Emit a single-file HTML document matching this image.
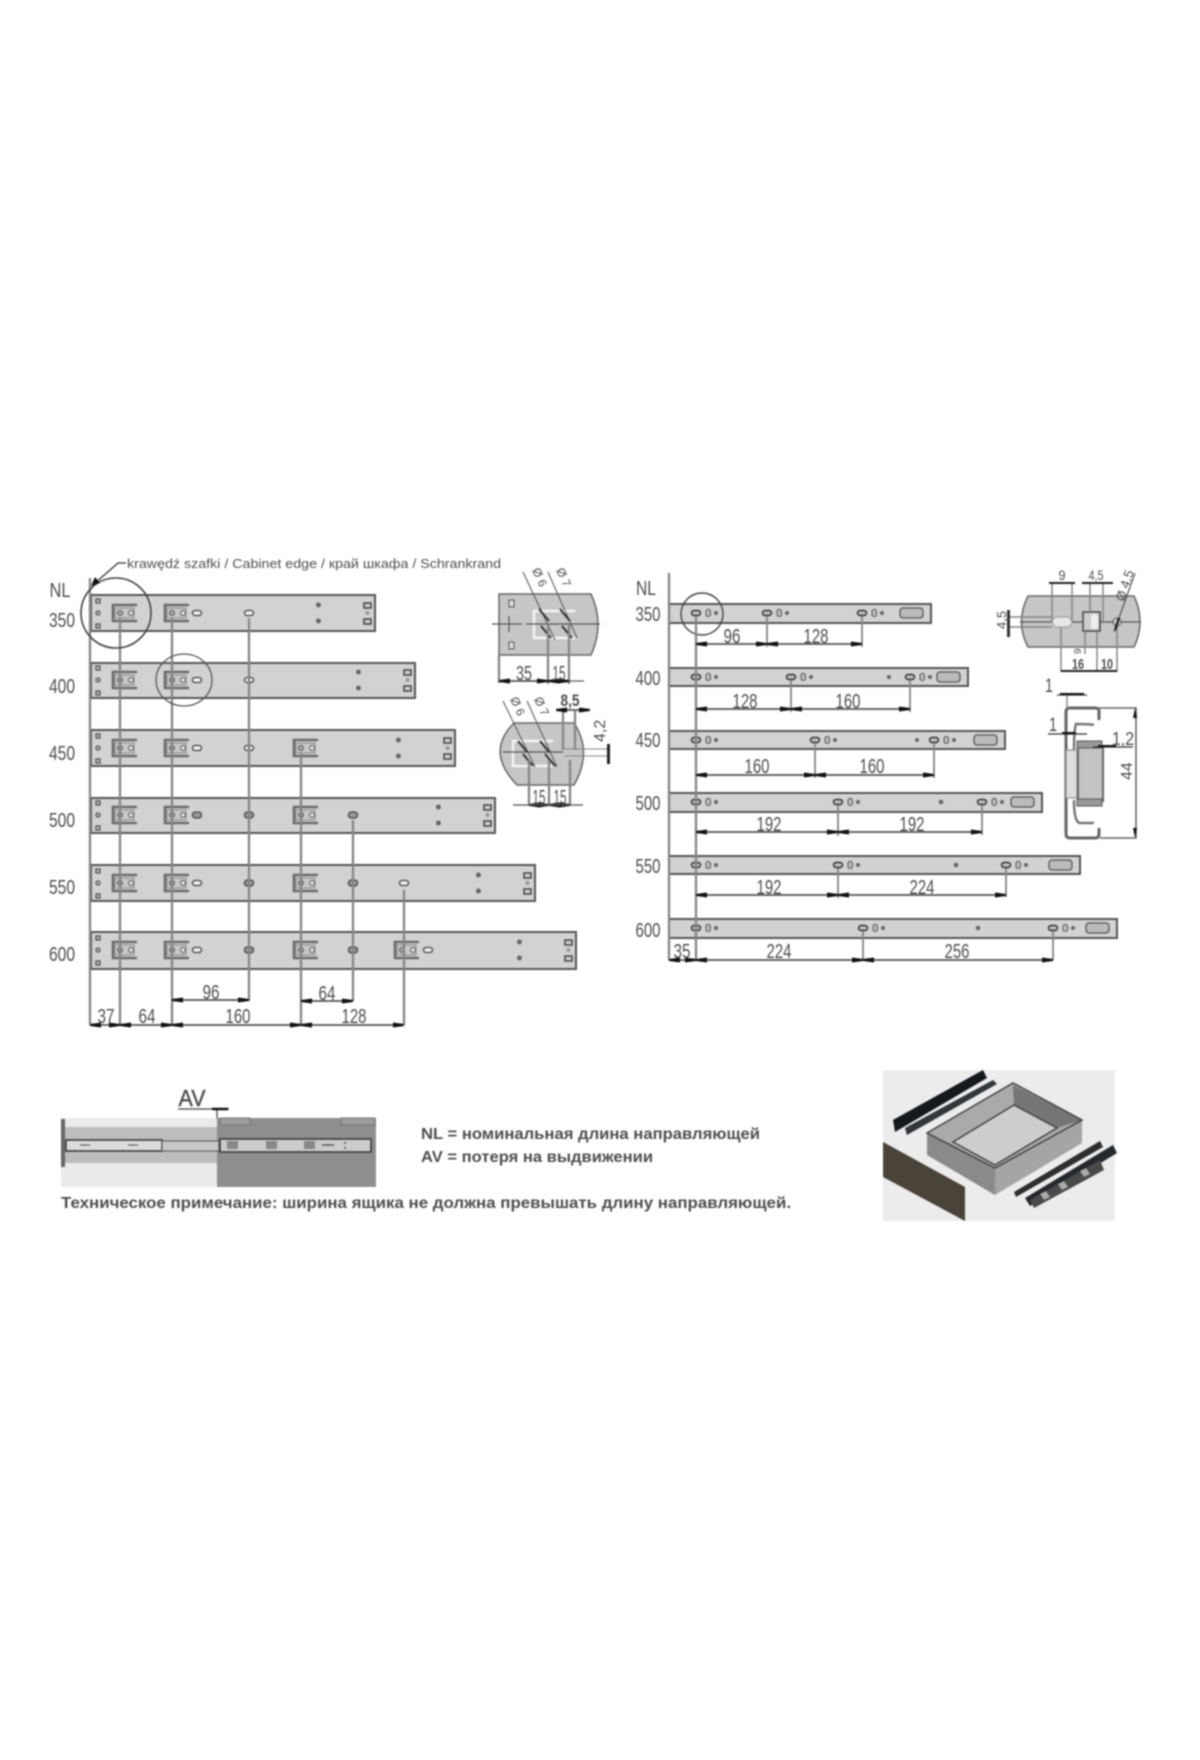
<!DOCTYPE html>
<html lang="pl"><head><meta charset="utf-8"><title>Rail drawing</title>
<style>
html,body{margin:0;padding:0;background:#fff}
svg{display:block;filter:blur(.8px)}
text{font-family:"Liberation Sans","DejaVu Sans",sans-serif;fill:#4e4e4e}
.n{font-size:20px;text-anchor:middle}
.b{font-weight:bold}
.x{stroke:#858585;stroke-width:2.3;fill:none}
.d{stroke:#555;stroke-width:1.7;fill:none;marker-start:url(#a);marker-end:url(#a)}
.t{stroke:#555;stroke-width:1.2;fill:none}
</style></head><body>
<svg width="1200" height="1760" viewBox="0 0 1200 1760" xmlns="http://www.w3.org/2000/svg">
<defs>
<marker id="a" markerUnits="userSpaceOnUse" markerWidth="12" markerHeight="6" refX="11" refY="3" orient="auto-start-reverse"><path d="M0 .5L11 2V4L0 5.5Z" fill="#111"/></marker>
<g id="br"><path d="M17-8H-7V8H17" fill="none" stroke="#6a6a6a" stroke-width="2.6"/><rect x="-5" y="-5" width="19" height="10" fill="#c8c8c8" stroke="#888"/><circle cx="0" cy="0" r="2.5" fill="#aaa" stroke="#555"/><circle cx="11" cy="0" r="2.5" fill="#ddd" stroke="#555"/></g>
<g id="ls"><g fill="#bbb" stroke="#555" stroke-width="1.3"><rect x="5" y="4" width="4" height="4"/><circle cx="7" cy="18" r="2"/><rect x="5" y="29" width="4" height="4"/></g></g>
<g id="re"><circle cx="-56.6" cy="10" r="2.5" fill="#666"/><circle cx="-56.6" cy="26" r="2.5" fill="#666"/><g fill="#ccc" stroke="#444" stroke-width="1.5"><rect x="-11" y="8" width="7" height="5"/><rect x="-11" y="24" width="7" height="5"/></g><circle cx="-7.5" cy="18" r="2" fill="#999"/></g>
<rect id="o" x="-4.5" y="-2.5" width="9" height="5" rx="2.5" fill="#eee" stroke="#444" stroke-width="1.3"/>
<rect id="o2" x="-4.5" y="-3" width="9" height="6" rx="3" fill="#999" stroke="#444" stroke-width="1.3"/>
<g id="h"><rect x="-4.5" y="-2.5" width="9" height="5" rx="2.5" fill="#bbb" stroke="#333" stroke-width="1.4"/><rect x="10" y="-3.5" width="4.5" height="7" rx="2" fill="#bbb" stroke="#555"/><circle cx="20" cy="0" r="2" fill="#666"/></g>
<rect id="sl" x="-31" y="-5" width="23" height="10" rx="3" fill="#bbb" stroke="#555" stroke-width="1.3"/>
</defs>
<rect width="1200" height="1760" fill="#fff"/>

<!-- LEFT RAILS -->
<g fill="#d2d2d2" stroke="#555" stroke-width="2">
<rect x="91" y="595" width="284" height="36"/><rect x="91" y="663" width="324" height="35"/><rect x="91" y="730" width="364" height="36"/>
<rect x="91" y="798" width="404" height="35"/><rect x="91" y="865" width="444" height="36"/><rect x="91" y="932" width="485" height="37"/>
</g>
<use href="#ls" x="91" y="595"/><use href="#ls" x="91" y="662"/><use href="#ls" x="91" y="730"/><use href="#ls" x="91" y="797"/><use href="#ls" x="91" y="865"/><use href="#ls" x="91" y="932"/>
<use href="#re" x="375" y="595"/><use href="#re" x="415" y="662"/><use href="#re" x="455" y="730"/><use href="#re" x="495" y="797"/><use href="#re" x="535" y="865"/><use href="#re" x="576" y="932"/>
<use href="#br" x="120" y="613"/><use href="#br" x="120" y="680"/><use href="#br" x="120" y="748"/><use href="#br" x="120" y="815"/><use href="#br" x="120" y="883"/><use href="#br" x="120" y="950"/>
<use href="#br" x="172" y="613"/><use href="#br" x="172" y="680"/><use href="#br" x="172" y="748"/><use href="#br" x="172" y="815"/><use href="#br" x="172" y="883"/><use href="#br" x="172" y="950"/>
<use href="#o" x="197" y="613"/><use href="#o" x="197" y="680"/><use href="#o" x="197" y="748"/><use href="#o2" x="197" y="815"/><use href="#o" x="197" y="883"/><use href="#o" x="197" y="950"/>
<use href="#o" x="249" y="613"/><use href="#o" x="249" y="680"/><use href="#o" x="249" y="748"/><use href="#o2" x="249" y="815"/><use href="#o2" x="249" y="883"/><use href="#o2" x="249" y="950"/>
<use href="#br" x="301" y="748"/><use href="#br" x="301" y="815"/><use href="#br" x="301" y="883"/><use href="#br" x="301" y="950"/>
<use href="#o2" x="353" y="815"/><use href="#o2" x="353" y="883"/><use href="#o2" x="353" y="950"/>
<use href="#o" x="404" y="883"/><use href="#br" x="402" y="950"/><use href="#o" x="428" y="950"/>

<path class="x" d="M90 578V1025M120 618V1025M172 618V1025M249 618V1001M301 753V1025M353 820V1001M404 890V1025"/>
<path class="d" d="M172 1000H249"/><path class="d" d="M301 1001H353"/>
<path class="d" d="M90 1025H120"/><path class="d" d="M120 1025H172"/><path class="d" d="M172 1025H301"/><path class="d" d="M301 1025H404"/>
<text class="n" x="106" y="1023" textLength="17" lengthAdjust="spacingAndGlyphs">37</text>
<text class="n" x="147" y="1023" textLength="17" lengthAdjust="spacingAndGlyphs">64</text>
<text class="n" x="238" y="1023" textLength="25" lengthAdjust="spacingAndGlyphs">160</text>
<text class="n" x="354" y="1023" textLength="25" lengthAdjust="spacingAndGlyphs">128</text>
<text class="n" x="211" y="999" textLength="17" lengthAdjust="spacingAndGlyphs">96</text>
<text class="n" x="327" y="1000" textLength="17" lengthAdjust="spacingAndGlyphs">64</text>

<text class="n" x="60" y="597" textLength="21" lengthAdjust="spacingAndGlyphs">NL</text>
<text class="n" x="62" y="627" textLength="26" lengthAdjust="spacingAndGlyphs">350</text>
<text class="n" x="62" y="693" textLength="26" lengthAdjust="spacingAndGlyphs">400</text>
<text class="n" x="62" y="760" textLength="26" lengthAdjust="spacingAndGlyphs">450</text>
<text class="n" x="62" y="827" textLength="26" lengthAdjust="spacingAndGlyphs">500</text>
<text class="n" x="62" y="894" textLength="26" lengthAdjust="spacingAndGlyphs">550</text>
<text class="n" x="62" y="961" textLength="26" lengthAdjust="spacingAndGlyphs">600</text>

<ellipse cx="116" cy="613" rx="35" ry="35" fill="none" stroke="#444" stroke-width="1.6"/>
<ellipse cx="184" cy="680" rx="28" ry="26" fill="none" stroke="#555" stroke-width="1.3"/>
<path d="M126 563H118L94 584" fill="none" stroke="#333" stroke-width="1.3"/><path d="M91 586L95 577L100 583Z" fill="#111"/>
<text x="127" y="568" font-size="13" textLength="374" lengthAdjust="spacingAndGlyphs">krawędź szafki / Cabinet edge / край шкафа / Schrankrand</text>

<!-- DETAIL 1 -->
<path d="M499 594H591Q605 624 591 655H499Z" fill="#c6c6c6" stroke="#666" stroke-width="1.5"/>
<path d="M575 611H534V638H575" fill="none" stroke="#f4f4f4" stroke-width="2.5"/>
<rect x="509" y="600" width="5" height="7" fill="#ddd" stroke="#555"/><rect x="509" y="642" width="5" height="7" fill="#ddd" stroke="#555"/>
<path class="t" d="M492 624H522M526 624H600M509 616V632"/>
<path d="M523 572L555 640M548 572L577 638" stroke="#555" fill="none"/>
<path d="M539 609L549 621M541 626L551 638M560 609L570 621M562 626L572 638" stroke="#333" stroke-width="2"/>
<path class="x" d="M499 655V683M548 624V684M569 624V684"/>
<path class="d" d="M499 681H548"/><path class="d" d="M548 681H569"/><path class="t" d="M569 681H584"/>
<text class="n" x="524" y="680" textLength="16" lengthAdjust="spacingAndGlyphs">35</text>
<text class="n" x="559" y="680" textLength="13" lengthAdjust="spacingAndGlyphs">15</text>
<text font-size="12" transform="translate(532 570) rotate(66)">Ø 6</text>
<text font-size="12" transform="translate(556 570) rotate(66)">Ø 7</text>

<!-- DETAIL 2 -->
<path d="M514 723H574Q593 752 574 785H517Q485 752 514 723Z" fill="#c6c6c6" stroke="#666" stroke-width="1.5"/>
<path d="M553 741H513V766H553" fill="none" stroke="#f4f4f4" stroke-width="2.5"/>
<path class="t" d="M503 752H563"/><path d="M564 749H610M564 756H610" stroke="#888" fill="none"/>
<path d="M503 701L535 767M527 701L557 767" stroke="#555" fill="none"/>
<path d="M518 741L527 752M523 754L533 766M540 741L549 752M545 754L555 766" stroke="#333" stroke-width="2"/>
<path class="x" d="M563 711V750M575 711V750M529 760V806M549 760V806M570 760V806"/>
<path class="d" d="M556 710H590"/>
<path class="d" d="M529 805H549"/><path class="d" d="M549 805H570"/><path class="t" d="M513 805H583"/>
<rect x="607" y="744" width="3" height="20" fill="#222"/>
<text class="n b" x="570" y="706" style="font-size:17px" textLength="19" lengthAdjust="spacingAndGlyphs">8,5</text>
<text class="n" x="539" y="804" textLength="13" lengthAdjust="spacingAndGlyphs">15</text>
<text class="n" x="560" y="804" textLength="13" lengthAdjust="spacingAndGlyphs">15</text>
<text font-size="16" transform="translate(605 742) rotate(-90)">4,2</text>
<text font-size="12" transform="translate(510 699) rotate(66)">Ø 6</text>
<text font-size="12" transform="translate(534 699) rotate(66)">Ø 7</text>

<!-- RIGHT RAILS -->
<g fill="#d2d2d2" stroke="#555" stroke-width="2">
<rect x="669" y="604" width="262" height="19"/><rect x="669" y="668" width="299" height="18"/><rect x="669" y="731" width="336" height="18"/>
<rect x="669" y="793" width="373" height="19"/><rect x="669" y="856" width="411" height="18"/><rect x="669" y="919" width="448" height="19"/>
</g>
<use href="#sl" x="931" y="613"/><use href="#sl" x="968" y="677"/><use href="#sl" x="1005" y="740"/><use href="#sl" x="1042" y="802"/><use href="#sl" x="1080" y="865"/><use href="#sl" x="1117" y="928"/>
<use href="#h" x="696" y="613"/><use href="#h" x="767" y="613"/><use href="#h" x="862" y="613"/>
<use href="#h" x="696" y="677"/><use href="#h" x="791" y="677"/><use href="#h" x="910" y="677"/><circle cx="889" cy="677" r="2" fill="#666"/>
<use href="#h" x="696" y="740"/><use href="#h" x="815" y="740"/><use href="#h" x="934" y="740"/><circle cx="917" cy="740" r="2" fill="#666"/>
<use href="#h" x="696" y="802"/><use href="#h" x="838" y="802"/><use href="#h" x="982" y="802"/><circle cx="941" cy="802" r="2.3" fill="#666"/>
<use href="#h" x="696" y="865"/><use href="#h" x="838" y="865"/><use href="#h" x="1006" y="865"/><circle cx="956" cy="865" r="2.3" fill="#666"/>
<use href="#h" x="696" y="928"/><use href="#h" x="863" y="928"/><use href="#h" x="1053" y="928"/><circle cx="978" cy="928" r="2.3" fill="#666"/>
<ellipse cx="702" cy="614" rx="21" ry="21" fill="none" stroke="#444" stroke-width="1.4"/>
<path class="x" d="M669 573V960M696 616V960"/>
<path class="x" style="stroke-width:1.8" d="M767 616V647M862 616V647M791 680V712M910 680V712M815 743V778M934 743V778M838 805V836M982 805V835M838 868V898M1006 868V897M863 931V960M1053 931V960"/>
<path class="d" d="M696 644H767"/><path class="d" d="M767 644H862"/>
<path class="d" d="M696 709H791"/><path class="d" d="M791 709H910"/>
<path class="d" d="M696 775H815"/><path class="d" d="M815 775H934"/>
<path class="d" d="M696 832H838"/><path class="d" d="M838 832H982"/>
<path class="d" d="M696 895H838"/><path class="d" d="M838 895H1006"/>
<path class="d" d="M669 960H696"/><path class="d" d="M696 960H863"/><path class="d" d="M863 960H1053"/>
<text class="n" x="646" y="595" textLength="20" lengthAdjust="spacingAndGlyphs">NL</text>
<text class="n" x="648" y="621" textLength="25" lengthAdjust="spacingAndGlyphs">350</text>
<text class="n" x="648" y="685" textLength="25" lengthAdjust="spacingAndGlyphs">400</text>
<text class="n" x="648" y="747" textLength="25" lengthAdjust="spacingAndGlyphs">450</text>
<text class="n" x="648" y="810" textLength="25" lengthAdjust="spacingAndGlyphs">500</text>
<text class="n" x="648" y="873" textLength="25" lengthAdjust="spacingAndGlyphs">550</text>
<text class="n" x="648" y="937" textLength="25" lengthAdjust="spacingAndGlyphs">600</text>
<text class="n" x="732" y="643" textLength="17" lengthAdjust="spacingAndGlyphs">96</text>
<text class="n" x="816" y="643" textLength="25" lengthAdjust="spacingAndGlyphs">128</text>
<text class="n" x="745" y="708" textLength="25" lengthAdjust="spacingAndGlyphs">128</text>
<text class="n" x="848" y="708" textLength="25" lengthAdjust="spacingAndGlyphs">160</text>
<text class="n" x="757" y="773" textLength="25" lengthAdjust="spacingAndGlyphs">160</text>
<text class="n" x="872" y="773" textLength="25" lengthAdjust="spacingAndGlyphs">160</text>
<text class="n" x="769" y="831" textLength="25" lengthAdjust="spacingAndGlyphs">192</text>
<text class="n" x="912" y="831" textLength="25" lengthAdjust="spacingAndGlyphs">192</text>
<text class="n" x="769" y="894" textLength="25" lengthAdjust="spacingAndGlyphs">192</text>
<text class="n" x="922" y="894" textLength="25" lengthAdjust="spacingAndGlyphs">224</text>
<text class="n" x="682" y="958" textLength="17" lengthAdjust="spacingAndGlyphs">35</text>
<text class="n" x="779" y="958" textLength="25" lengthAdjust="spacingAndGlyphs">224</text>
<text class="n" x="957" y="958" textLength="25" lengthAdjust="spacingAndGlyphs">256</text>

<!-- DETAIL 3 -->
<path d="M1028 596H1134Q1146 622 1134 647H1028Q1015 622 1028 596Z" fill="#c6c6c6" stroke="#666" stroke-width="1.5"/>
<path class="t" d="M1020 622H1141"/>
<rect x="1052" y="617" width="20" height="10" rx="5" fill="#e6e6e6" stroke="#999"/>
<rect x="1083" y="612" width="17" height="19" fill="#ccc" stroke="#444" stroke-width="1.5"/><rect x="1091" y="614" width="7" height="15" rx="3" fill="#eee"/>
<circle cx="1117" cy="622" r="4" fill="#ccc" stroke="#555"/>
<path class="x" style="stroke-width:1.5" d="M1052 583V622M1072 583V622M1090 583V612M1103 583V622M1061 627V672M1097 631V672M1117 626V672M1085 631V654M1008 617H1052M1008 627H1052"/>
<path class="t" d="M1135 573L1114 632"/><path d="M1119 618L1115 630" stroke="#111" stroke-width="2"/>
<path d="M1049 583H1075M1082 583H1113" stroke="#222" stroke-width="2"/>
<rect x="1007" y="610" width="3" height="27" fill="#333"/>
<path d="M1061 671H1117" stroke="#222" stroke-width="2"/>
<text class="n" x="1062" y="580" style="font-size:14px" textLength="7" lengthAdjust="spacingAndGlyphs">9</text>
<text class="n" x="1096" y="580" style="font-size:14px" textLength="15" lengthAdjust="spacingAndGlyphs">4,5</text>
<text font-size="13" transform="translate(1124 602) rotate(-72)">Ø 4,5</text>
<text font-size="13" transform="translate(1006 629) rotate(-90)">4,5</text>
<text font-size="10" transform="translate(1081 654) rotate(-90)">9</text>
<text class="n b" x="1078" y="669" style="font-size:15px" textLength="12" lengthAdjust="spacingAndGlyphs">16</text>
<text class="n b" x="1107" y="669" style="font-size:15px" textLength="12" lengthAdjust="spacingAndGlyphs">10</text>

<!-- PROFILE -->
<path d="M1099 720V711Q1099 708 1095 708H1070Q1066 708 1066 712V834Q1066 838 1070 838H1095Q1099 838 1099 834V828" fill="none" stroke="#666" stroke-width="3"/>
<rect x="1066" y="750" width="11" height="48" fill="#ddd" stroke="#888"/>
<rect x="1078" y="747" width="25" height="54" fill="#c4c4c4" stroke="#666" stroke-width="2"/>
<path d="M1094 725Q1090 724 1076 724Q1074 730 1074 750M1094 823H1080Q1074 823 1074 800" fill="none" stroke="#777" stroke-width="2.5"/>
<path d="M1077 741H1102V748H1077ZM1077 799H1102V806H1077Z" fill="#999" stroke="#555"/>
<path class="x" style="stroke-width:1.4" d="M1067 696V708"/>
<path d="M1057 695H1087M1048 734H1087M1093 747H1133" stroke="#333" stroke-width="1.3"/>
<path d="M1060 694H1084M1062 733H1076M1098 746H1116" stroke="#111" stroke-width="2"/>
<path d="M1099 708H1136V838H1100" fill="none" stroke="#666" stroke-width="1.6"/>
<path d="M1135 708l-2 10h4ZM1135 838l-2-10h4Z" fill="#111"/>
<text class="n" x="1049" y="692" style="font-size:19px" textLength="8" lengthAdjust="spacingAndGlyphs">1</text>
<text class="n" x="1053" y="731" style="font-size:19px" textLength="8" lengthAdjust="spacingAndGlyphs">1</text>
<text class="n" x="1123" y="745" style="font-size:18px" textLength="22" lengthAdjust="spacingAndGlyphs">1,2</text>
<text font-size="16" transform="translate(1132 780) rotate(-90)">44</text>

<!-- AV DRAWING -->
<rect x="61" y="1118" width="156" height="69" fill="#ebebeb"/>
<rect x="61" y="1127" width="157" height="36" fill="#bdbdbd"/>
<rect x="217" y="1118" width="159" height="69" fill="#8e8e8e"/>
<rect x="220" y="1118" width="30" height="7" fill="#9c9c9c" stroke="#777"/><rect x="341" y="1118" width="34" height="7" fill="#9c9c9c" stroke="#777"/>
<rect x="61" y="1119" width="4" height="48" fill="#666"/>
<rect x="66" y="1140" width="96" height="11" fill="#dcdcdc" stroke="#333" stroke-width="1.5"/>
<rect x="162" y="1141" width="57" height="10" fill="#c8c8c8" stroke="#555"/>
<rect x="220" y="1139" width="151" height="13" fill="#ccc" stroke="#333" stroke-width="1.5"/>
<rect x="227" y="1141" width="11" height="8" fill="#888"/><rect x="266" y="1141" width="11" height="8" fill="#888"/><rect x="304" y="1141" width="11" height="8" fill="#888"/>
<path d="M322 1145H334M345 1142v2M345 1147v2" stroke="#555" stroke-width="1.5"/>
<path d="M80 1145h10M128 1145h10" stroke="#777" stroke-width="1.5"/>
<path d="M178 1109H229M217 1109V1118" stroke="#444" stroke-width="1.3" fill="none"/><path d="M212 1109h16" stroke="#111" stroke-width="2.5"/>
<text class="n" x="192" y="1106" style="font-size:23px;stroke:#4e4e4e;stroke-width:.4" textLength="27" lengthAdjust="spacingAndGlyphs">AV</text>
<text class="b" x="421" y="1139" font-size="16" textLength="339" lengthAdjust="spacingAndGlyphs">NL = номинальная длина направляющей</text>
<text class="b" x="421" y="1162" font-size="16" textLength="232" lengthAdjust="spacingAndGlyphs">AV = потеря на выдвижении</text>
<text class="b" x="61" y="1208" font-size="16" textLength="730" lengthAdjust="spacingAndGlyphs">Техническое примечание: ширина ящика не должна превышать длину направляющей.</text>

<!-- PHOTO -->
<rect x="883" y="1070" width="232" height="151" fill="#ececec"/>
<path d="M927 1133L1013 1083L1082 1120L995 1168Z" fill="#aaa"/>
<path d="M1013 1085L1082 1120L1057 1128L1014 1105Z" fill="#757575"/>
<path d="M1014 1105L1057 1128L995 1165L953 1142Z" fill="#cdcdcd"/>
<path d="M927 1133L995 1168V1195L927 1155Z" fill="#8a8a8a"/>
<path d="M995 1168L1082 1120V1143L995 1195Z" fill="#a5a5a5"/>
<path d="M927 1133L1013 1083L1082 1120L995 1168Z M953 1142L1014 1105L1057 1128L995 1165Z" fill="none" stroke="#444" stroke-width="1.5"/>
<path d="M883 1142L965 1187V1221L883 1177Z" fill="#4a4339"/>
<path d="M893 1120L983 1070L987 1078L895 1132Z" fill="#15181c"/>
<path d="M905 1128L993 1080L997 1084L907 1135Z" fill="#33373c"/>
<path d="M1014 1192L1100 1141L1103 1147L1016 1197Z" fill="#2e2e2e"/>
<path d="M1025 1198L1113 1145L1117 1153L1030 1206Z" fill="#25282c"/>
<path d="M1030 1200L1100 1160L1104 1170L1034 1208Z" fill="#4a4a4a"/>
<path d="M1040 1194l6-3 4 6-6 3ZM1058 1184l6-3 4 6-6 3ZM1080 1171l6-3 4 6-6 3Z" fill="#aaa"/>
</svg>
</body></html>
